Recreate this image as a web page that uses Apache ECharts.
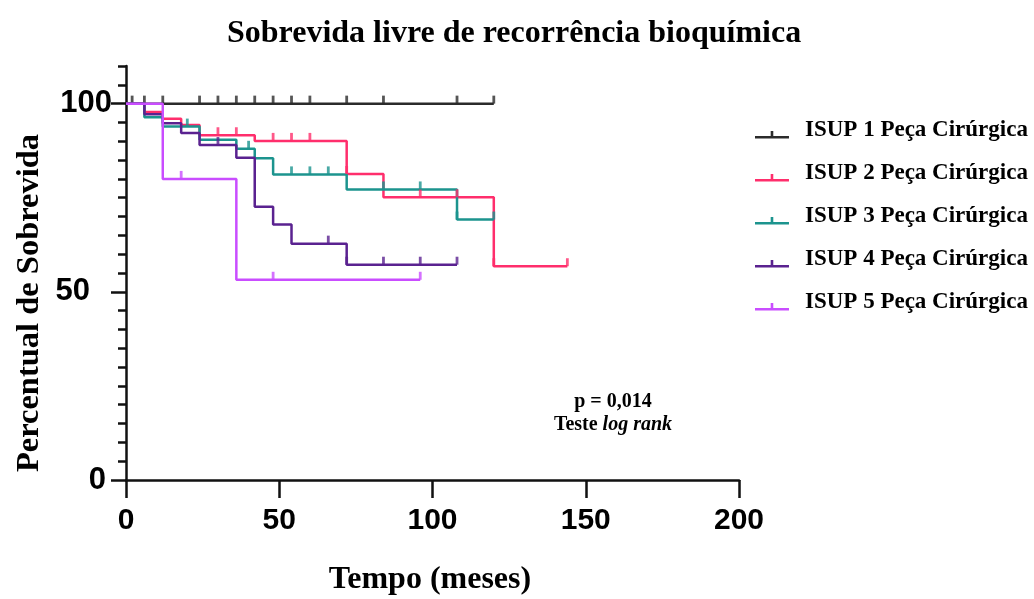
<!DOCTYPE html>
<html><head><meta charset="utf-8">
<script src="https://cdn.jsdelivr.net/npm/echarts@6/dist/echarts.min.js"></script>
<style>html,body{margin:0;padding:0;background:#fff}#c{width:1034px;height:599px}</style>
</head><body><div id="c"></div>
<script>
// ---------- data ----------
const seriesNames = ['ISUP 1 Peça Cirúrgica', 'ISUP 2 Peça Cirúrgica', 'ISUP 3 Peça Cirúrgica', 'ISUP 4 Peça Cirúrgica', 'ISUP 5 Peça Cirúrgica'];
const seriesColors = ['#2b2b2b', '#ff2e6c', '#1c948e', '#5a2290', '#c94dff'];

const isup1Times = [0, 120];
const isup1Surv = [100, 100];
const isup1Censor = [2, 6, 12, 24, 30, 36, 42, 48, 54, 60, 72, 84, 108, 120];

const isup2Times = [0, 6, 12, 18, 24, 42, 72, 84, 120, 144];
const isup2Surv = [100, 97.8, 96.0, 94.3, 91.6, 90.1, 81.3, 75.1, 56.8, 56.8];
const isup2Censor = [30, 36, 48, 54, 60, 72, 96, 108, 120, 144];

const isup3Times = [0, 6, 12, 24, 36, 42, 48, 72, 108, 120];
const isup3Surv = [100, 96.4, 93.9, 90.4, 88.0, 85.5, 81.2, 77.2, 69.2, 69.2];
const isup3Censor = [20, 40, 54, 60, 66, 84, 96, 108, 120];

const isup4Times = [0, 6, 12, 18, 24, 36, 42, 48, 54, 72, 108];
const isup4Surv = [100, 97.2, 94.8, 92.2, 89.0, 85.6, 72.6, 67.9, 62.8, 57.2, 57.2];
const isup4Censor = [30, 66, 72, 84, 96, 108];

const isup5Times = [0, 12, 36, 96];
const isup5Surv = [100, 80.0, 53.2, 53.2];
const isup5Censor = [18, 48, 96];

const xTicks = [0, 50, 100, 150, 200];
const yLabels = [0, 50, 100];

// ---------- build ----------
const groups = [
  [isup1Times, isup1Surv, isup1Censor],
  [isup2Times, isup2Surv, isup2Censor],
  [isup3Times, isup3Surv, isup3Censor],
  [isup4Times, isup4Surv, isup4Censor],
  [isup5Times, isup5Surv, isup5Censor]
];
function survAt(times, surv, t) {
  let v = surv[0];
  for (let i = 0; i < times.length; i++) { if (times[i] <= t) v = surv[i]; }
  return v;
}
const serif = 'Liberation Serif';
const series = [];
const order = [3, 4, 2, 1, 0];
order.forEach(function (gi) {
  const g = groups[gi];
  series.push({
    name: seriesNames[gi], type: 'line', step: 'end', yAxisIndex: 0,
    data: g[0].map(function (t, i) { return [t, g[1][i]]; }),
    showSymbol: false, symbol: 'none', color: seriesColors[gi],
    lineStyle: { width: 2.5, color: seriesColors[gi] }, z: 2 + gi, silent: true
  });
  series.push({
    name: seriesNames[gi] + ' c', type: 'scatter', yAxisIndex: 0,
    data: g[2].map(function (t) { return [t, survAt(g[0], g[1], t)]; }),
    symbol: 'rect', symbolSize: [2.8, 8], symbolOffset: [0, -4],
    itemStyle: { color: seriesColors[gi] }, z: 3 + gi, silent: true
  });
});

const legendIcon = 'path://M0,0h0.01v0.01h-0.01z M0,14.5h34v2.6h-34z M15.7,9.5h2.6v5h-2.6z M33.99,18h0.01v0.01h-0.01z';
const axisColor = '#111';

const chart = echarts.init(document.getElementById('c'), null, { renderer: 'canvas' });
chart.setOption({
  animation: false,
  backgroundColor: '#fff',
  title: {
    text: 'Sobrevida livre de recorrência bioquímica', left: 222, top: 13,
    textStyle: { fontFamily: serif, fontWeight: 'bold', fontSize: 32, color: '#000' }
  },
  legend: {
    orient: 'vertical', left: 750, top: 114,
    data: seriesNames,
    icon: legendIcon, itemWidth: 34, itemHeight: 18, itemGap: 20,
    itemStyle: { borderWidth: 0 },
    textStyle: { fontFamily: serif, fontWeight: 'bold', fontSize: 23, color: '#000', padding: [0, 0, 0, 11], lineHeight: 22 },
    selectedMode: false
  },
  grid: { left: 126, right: 295, top: 66, bottom: 119 },
  xAxis: {
    type: 'value', min: 0, max: 200, interval: 50,
    axisLine: { onZero: false, lineStyle: { color: axisColor, width: 2.5 } },
    axisTick: { length: 18, lineStyle: { color: axisColor, width: 2.5 } },
    axisLabel: { margin: 26, fontFamily: 'Liberation Sans', fontWeight: 'bold', fontSize: 30, color: '#000' },
    splitLine: { show: false }
  },
  yAxis: [{
    type: 'value', min: 0, max: 110, interval: 5,
    axisLine: { show: true, onZero: false, lineStyle: { color: axisColor, width: 2.5 } },
    axisTick: { show: true, length: 8, lineStyle: { color: axisColor, width: 2.5 } },
    axisLabel: { show: false }, splitLine: { show: false }
  }, {
    type: 'value', min: 0, max: 110, position: 'left', offset: 0,
    axisLine: { show: false, onZero: false },
    axisTick: { show: true, customValues: yLabels, length: 15, lineStyle: { color: axisColor, width: 2.5 } },
    axisLabel: {
      customValues: yLabels, margin: 14,
      formatter: function (v) { return v === 100 ? '{a|100}' : (v === 50 ? '{b|50}' : '{c|0}'); },
      rich: {
        a: { fontFamily: 'Liberation Sans', fontWeight: 'bold', fontSize: 31, color: '#000' },
        b: { fontFamily: 'Liberation Sans', fontWeight: 'bold', fontSize: 31, color: '#000', padding: [0, 22, 0, 0] },
        c: { fontFamily: 'Liberation Sans', fontWeight: 'bold', fontSize: 31, color: '#000', padding: [0, 6, 0, 0] }
      }
    },
    splitLine: { show: false }
  }],
  graphic: [
    { type: 'text', x: 30, y: 303, rotation: Math.PI / 2,
      style: { text: 'Percentual de Sobrevida', fontFamily: serif, fontWeight: 'bold', fontSize: 32.5, fill: '#000', align: 'center', verticalAlign: 'middle' } },
    { type: 'text', x: 430, y: 580,
      style: { text: 'Tempo (meses)', fontFamily: serif, fontWeight: 'bold', fontSize: 32, fill: '#000', align: 'center', verticalAlign: 'middle' } },
    { type: 'text', x: 613, y: 402,
      style: { text: 'p = 0,014', fontFamily: serif, fontWeight: 'bold', fontSize: 20, fill: '#000', align: 'center', verticalAlign: 'middle' } },
    { type: 'text', x: 613, y: 425,
      style: { text: '{a|Teste }{b|log rank}', fontFamily: serif, fontSize: 20, fill: '#000', align: 'center', verticalAlign: 'middle',
        rich: { a: { fontFamily: serif, fontWeight: 'bold', fontSize: 20, fill: '#000' }, b: { fontFamily: serif, fontWeight: 'bold', fontStyle: 'italic', fontSize: 20, fill: '#000' } } } }
  ],
  series: series
});
</script>
</body></html>
